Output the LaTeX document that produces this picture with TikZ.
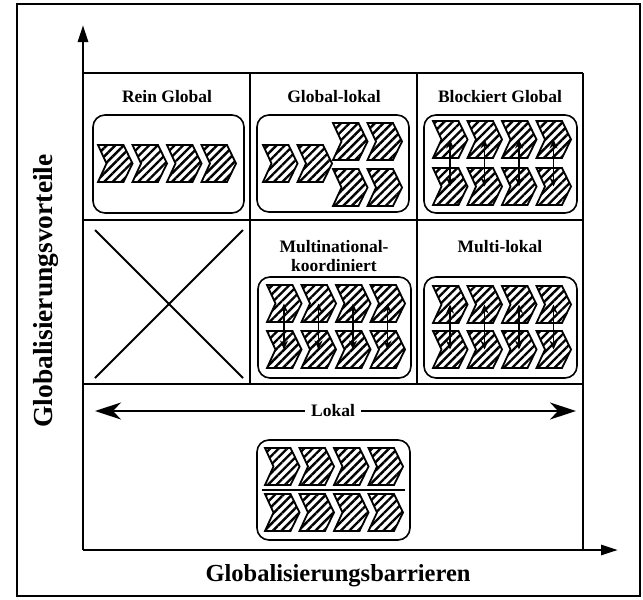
\documentclass[tikz,border=0pt]{standalone}
\usepackage{fontspec}
\setmainfont{Liberation Serif}
\usetikzlibrary{arrows.meta,patterns.meta}
\newcommand\chev[3]{%
  \path[chevst] (#2,#3) -- ++(25.5,0) -- ++(9,18.5) -- ++(-9,18.5) -- ++(-25.5,0) -- ++(8.5,-18.5) -- cycle;
  \coordinate (#1) at ({#2+17},{#3+18.5});}
\tikzset{
  chevst/.style={draw=black, line width=1.8pt, line join=miter,
    pattern={Lines[angle=45,distance=6pt,line width=2.4pt]}},
  gridln/.style={line width=1.8pt},
  rbox/.style={draw, line width=1.6pt, rounded corners=12pt},
  axisln/.style={line width=2.8pt, -{Triangle[length=17pt,width=10pt]}},
  lbl/.style={font=\fontsize{17.5}{20}\selectfont\bfseries, align=center, inner sep=1pt},
  vt/.style={line width=1.5pt, {Stealth[length=9pt,width=8pt]}-{Stealth[length=9pt,width=8pt]}},
  lok/.style={line width=1.5pt, {Stealth[length=26pt,width=17pt,inset=8pt]}-{Stealth[length=26pt,width=17pt,inset=8pt]}},
}
\begin{document}
\begin{tikzpicture}[x=1pt,y=-1pt]
\useasboundingbox (0,0) rectangle (643,600);
% outer frame
\draw[line width=1.6pt] (17,4) rectangle (640,596);
% grid
\draw[gridln] (83,73) -- (583,73);
\draw[gridln] (83,220) -- (583,220);
\draw[gridln] (83,384) -- (583,384);
\draw[gridln] (250,73) -- (250,384);
\draw[gridln] (417,73) -- (417,384);
\draw[gridln] (583,73) -- (583,550);
% cross
\draw[gridln] (95,230) -- (243,378);
\draw[gridln] (243,230) -- (95,378);
% axes
\coordinate (O) at (83,550);
\coordinate (Ytop) at (83,25);
\coordinate (Xend) at (618,550);
\draw[axisln] (O) -- (Ytop);
\draw[axisln] (O) -- (Xend);
% labels
\node[lbl] (tRG) at (167,97) {Rein Global};
\node[lbl] (tGL) at (334,97) {Global-lokal};
\node[lbl] (tBG) at (500,97) {Blockiert Global};
\node[lbl, font=\fontsize{17.5}{18.5}\selectfont\bfseries] (tMK) at (334,256) {Multinational-\\koordiniert};
\node[lbl] (tML) at (500,247) {Multi-lokal};
\node[font=\fontsize{27.5}{30}\selectfont\bfseries, rotate=90] (ylab) at (46,291) {Globalisierungsvorteile};
\node[font=\fontsize{24.5}{28}\selectfont\bfseries] (xlab) at (338,576) {Globalisierungsbarrieren};
% boxes
\draw[rbox] (93,115) rectangle (244,213);
\draw[rbox] (257,115) rectangle (409,212);
\draw[rbox] (424,115) rectangle (577,213);
\draw[rbox] (258,277) rectangle (411,378);
\draw[rbox] (424,277) rectangle (577,378);
\draw[rbox] (257,440) rectangle (410,540);
% Rein Global
\foreach \i in {0,1,2,3} {\chev{rg\i}{98+34.5*\i}{145}}
% Global-lokal
\chev{gl0}{263}{145}
\chev{gl1}{297.5}{145}
\chev{gl2}{333}{123}
\chev{gl3}{367.5}{123}
\chev{gl4}{333}{169}
\chev{gl5}{367.5}{169}
% Blockiert Global
\foreach \i in {0,1,2,3} {\chev{bgt\i}{433+34.5*\i}{121}\chev{bgb\i}{433+34.5*\i}{168}}
\foreach \i in {0,1,2,3} {\draw[vt] (bgt\i) -- (bgb\i);}
% Multinational-koordiniert
\foreach \i in {0,1,2,3} {\chev{mkt\i}{267+34.5*\i}{285}\chev{mkb\i}{267+34.5*\i}{331}}
\foreach \i in {0,1,2,3} {\draw[vt] (mkt\i) -- (mkb\i);}
% Multi-lokal
\foreach \i in {0,1,2,3} {\chev{mlt\i}{433+34.5*\i}{286}\chev{mlb\i}{433+34.5*\i}{331}}
\foreach \i in {0,1,2,3} {\draw[vt] (mlt\i) -- (mlb\i);}
% Lokal
\coordinate (lokL) at (95,411);
\coordinate (lokR) at (576,411);
\draw[lok] (lokL) -- (lokR);
\node[lbl, fill=white, inner xsep=6pt] (tLok) at (333,411) {Lokal};
% bottom box
\foreach \i in {0,1,2,3} {\chev{lt\i}{265+34.5*\i}{448}\chev{lb\i}{265+34.5*\i}{494}}
\coordinate (sepL) at (262,490);
\coordinate (sepR) at (405,490);
\draw[line width=2pt] (sepL) -- (sepR);
\end{tikzpicture}
\end{document}
